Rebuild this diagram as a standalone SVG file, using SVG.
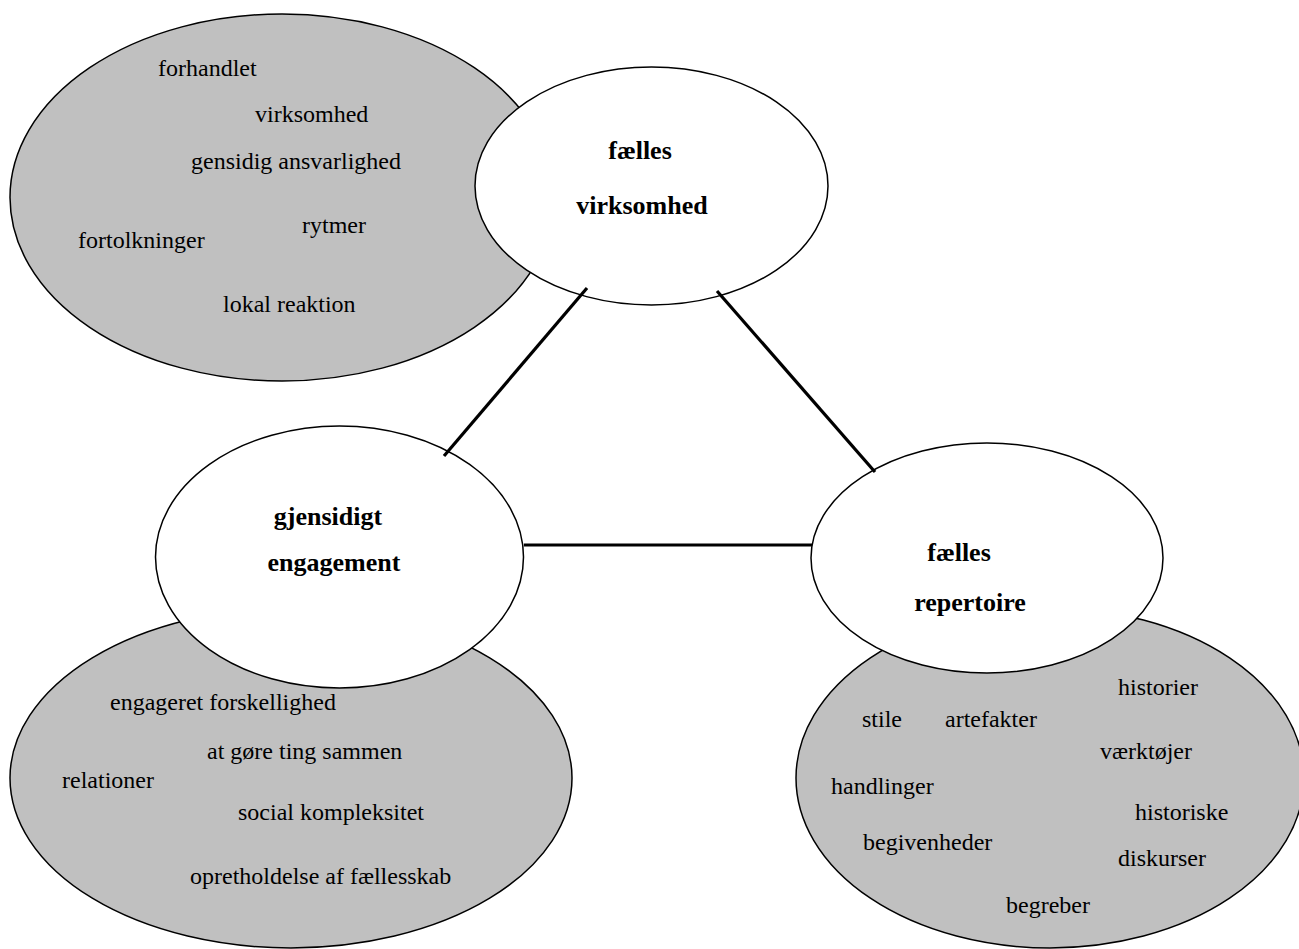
<svg xmlns="http://www.w3.org/2000/svg" width="1299" height="949" viewBox="0 0 1299 949">
<style>
.gray{fill:#c0c0c0;stroke:#000;stroke-width:1.5}
.white{fill:#fff;stroke:#000;stroke-width:1.5}
.t{font-family:"Liberation Serif","Times New Roman",serif;font-size:24px;fill:#000}
.b{font-family:"Liberation Serif","Times New Roman",serif;font-size:26px;font-weight:bold;fill:#000}
.c{stroke:#000;stroke-width:3.2;fill:none}
</style>
<rect width="1299" height="949" fill="#fff"/>
<g id="detail-virksomhed">
<ellipse class="gray" cx="282" cy="197.5" rx="272" ry="183.5"/>
<text class="t" x="158" y="76">forhandlet</text>
<text class="t" x="255" y="122">virksomhed</text>
<text class="t" x="191" y="169">gensidig ansvarlighed</text>
<text class="t" x="302" y="233">rytmer</text>
<text class="t" x="78" y="248">fortolkninger</text>
<text class="t" x="223" y="312">lokal reaktion</text>
</g>
<g id="detail-engagement">
<ellipse class="gray" cx="291" cy="778" rx="281" ry="170"/>
<text class="t" x="110" y="710">engageret forskellighed</text>
<text class="t" x="207" y="759">at gøre ting sammen</text>
<text class="t" x="62" y="788">relationer</text>
<text class="t" x="238" y="820">social kompleksitet</text>
<text class="t" x="190" y="884">opretholdelse af fællesskab</text>
</g>
<g id="detail-repertoire">
<ellipse class="gray" cx="1050" cy="778" rx="254" ry="170"/>
<text class="t" x="1118" y="695">historier</text>
<text class="t" x="862" y="727">stile</text>
<text class="t" x="945" y="727">artefakter</text>
<text class="t" x="1100" y="759">værktøjer</text>
<text class="t" x="831" y="794">handlinger</text>
<text class="t" x="1135" y="820">historiske</text>
<text class="t" x="863" y="850">begivenheder</text>
<text class="t" x="1118" y="866">diskurser</text>
<text class="t" x="1006" y="913">begreber</text>
</g>
<g id="node-faelles-virksomhed">
<ellipse class="white" cx="651.5" cy="186" rx="176.5" ry="119"/>
<text class="b" x="640" y="159" text-anchor="middle">fælles</text>
<text class="b" x="642" y="214" text-anchor="middle">virksomhed</text>
</g>
<g id="node-gjensidigt-engagement">
<ellipse class="white" cx="339.5" cy="557" rx="184" ry="131"/>
<text class="b" x="328" y="525" text-anchor="middle">gjensidigt</text>
<text class="b" x="334" y="571" text-anchor="middle">engagement</text>
</g>
<g id="node-faelles-repertoire">
<ellipse class="white" cx="987" cy="558" rx="176" ry="115"/>
<text class="b" x="959" y="561" text-anchor="middle">fælles</text>
<text class="b" x="970" y="611" text-anchor="middle">repertoire</text>
</g>
<g id="connectors">
<line class="c" x1="587" y1="288" x2="444" y2="456"/>
<line class="c" x1="717" y1="291" x2="875" y2="472"/>
<line class="c" x1="524" y1="545" x2="812" y2="545"/>
</g>
</svg>
